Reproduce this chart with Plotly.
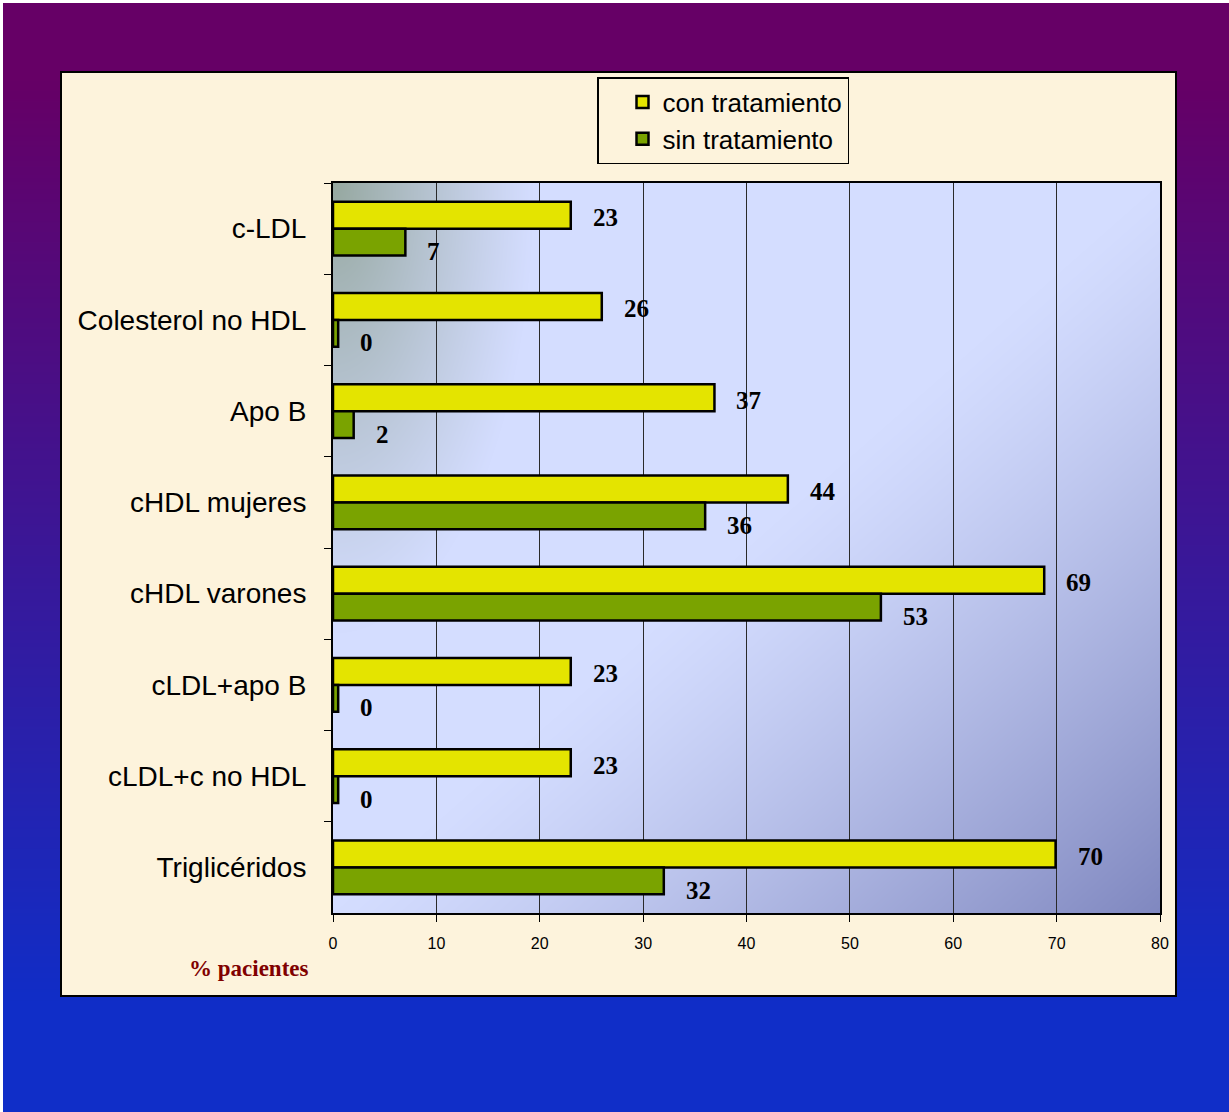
import base64
import struct
import zlib

import numpy as np
import plotly.graph_objects as go

# ---------------- data ----------------
categories = [
    "c-LDL",
    "Colesterol no HDL",
    "Apo B",
    "cHDL mujeres",
    "cHDL varones",
    "cLDL+apo B",
    "cLDL+c no HDL",
    "Triglicéridos",
]
con_tratamiento = [23, 26, 36.9, 44, 68.8, 23, 23, 69.9]
sin_tratamiento = [7, 0.5, 2, 36, 53, 0.5, 0.5, 32]
series_names = ["con tratamiento", "sin tratamiento"]
x_ticks = [0, 10, 20, 30, 40, 50, 60, 70, 80]
x_title = "% pacientes"

# ---------------- layout geometry (pixels) ----------------
W, H = 1229, 1112
PL, PR, PT, PB = 333, 1160, 183, 913          # plot area
BX0, BX1, BY0, BY1 = 61, 1176, 72, 996         # beige panel
PW, PH = PR - PL, PB - PT


def px_x(px):
    return (px - PL) / PW


def px_y(py):
    return (PB - py) / PH


# ---------------- background picture ----------------
def png_uri(arr):
    h, w, _ = arr.shape
    raw = b"".join(b"\x00" + arr[r].tobytes() for r in range(h))

    def chunk(tag, data):
        c = struct.pack(">I", len(data)) + tag + data
        return c + struct.pack(">I", zlib.crc32(tag + data) & 0xFFFFFFFF)

    png = b"\x89PNG\r\n\x1a\n"
    png += chunk(b"IHDR", struct.pack(">IIBBBBB", w, h, 8, 2, 0, 0, 0))
    png += chunk(b"IDAT", zlib.compress(raw, 9))
    png += chunk(b"IEND", b"")
    return "data:image/png;base64," + base64.b64encode(png).decode()


yy, xx = np.mgrid[0:H, 0:W].astype(float)
img = np.zeros((H, W, 3), float)

# outer purple -> blue gradient
top = np.array([102, 0, 102], float)
bot = np.array([16, 46, 200], float)
t = np.clip((yy - 80) / (1010 - 80), 0, 1)[..., None]
img[:] = top * (1 - t) + bot * t
img[(xx < 3) | (yy < 3)] = [255, 255, 255]

# beige panel
panel = (xx >= BX0) & (xx <= BX1) & (yy >= BY0) & (yy <= BY1)
img[panel] = [253, 243, 220]

# plot area gradient
pa = (xx >= PL) & (xx <= PR) & (yy >= PT) & (yy <= PB)
u = (xx - PL) / PW
v = (yy - PT) / PH
light = np.array([212, 221, 255], float)
dark = np.array([128, 136, 192], float)
grey = np.array([150, 168, 160], float)
d = (u + v) / 2
f = (np.clip((d - 0.5) / 0.5, 0, 1) ** 1.2)[..., None]
col = light * (1 - f) + dark * f
r = np.sqrt(((xx - PL) / 200) ** 2 + ((yy - PT) / 450) ** 2)
g = (np.clip(1 - r, 0, 1) ** 1.1)[..., None]
col = col * (1 - g) + grey * g
img[pa] = col[pa]

bg_uri = png_uri(np.clip(img, 0, 255).astype(np.uint8))

# ---------------- figure ----------------
SANS = "Liberation Sans, Arial, sans-serif"
SERIF = "Liberation Serif, Times New Roman, serif"
colors = ["#e4e400", "#7aa300"]

fig = go.Figure()
for name, vals, c in zip(series_names, [con_tratamiento, sin_tratamiento], colors):
    fig.add_trace(
        go.Bar(
            name=name,
            y=categories,
            x=vals,
            orientation="h",
            marker=dict(color=c, line=dict(color="black", width=2.5)),
        )
    )

annotations = []
for vals, yshift in [(con_tratamiento, 11), (sin_tratamiento, -23)]:
    for cat, val in zip(categories, vals):
        annotations.append(
            dict(
                x=val,
                y=cat,
                xref="x",
                yref="y",
                text=f"{val:.0f}",
                showarrow=False,
                xanchor="left",
                yanchor="middle",
                xshift=20,
                yshift=yshift,
                font=dict(family=SERIF, size=25, color="black", weight="bold"),
            )
        )

annotations.append(
    dict(
        x=px_x(249),
        y=px_y(968),
        xref="paper",
        yref="paper",
        text=x_title,
        showarrow=False,
        xanchor="center",
        yanchor="middle",
        font=dict(family=SERIF, size=23, color="#800000", weight="bold"),
    )
)

fig.update_layout(
    width=W,
    height=H,
    margin=dict(l=PL, r=W - PR, t=PT, b=H - PB, autoexpand=False),
    paper_bgcolor="#3a1a9a",
    plot_bgcolor="rgba(0,0,0,0)",
    barmode="group",
    bargap=0.41,
    bargroupgap=0,
    showlegend=True,
    legend=dict(
        x=px_x(597),
        y=px_y(77),
        xanchor="left",
        yanchor="top",
        bgcolor="rgba(0,0,0,0)",
        bordercolor="black",
        borderwidth=1.5,
        font=dict(family=SANS, size=26, color="black"),
        tracegroupgap=0,
        traceorder="normal",
        indentation=24,
    ),
    images=[
        dict(
            source=bg_uri,
            xref="paper",
            yref="paper",
            x=px_x(0),
            y=px_y(0),
            sizex=W / PW,
            sizey=H / PH,
            xanchor="left",
            yanchor="top",
            sizing="stretch",
            layer="below",
        )
    ],
    shapes=[
        dict(
            type="rect",
            xref="paper",
            yref="paper",
            x0=px_x(BX0),
            x1=px_x(BX1),
            y0=px_y(BY1),
            y1=px_y(BY0),
            line=dict(color="black", width=2),
            fillcolor="rgba(0,0,0,0)",
            layer="below",
        )
    ],
    annotations=annotations,
    xaxis=dict(
        range=[0, 80],
        tickvals=x_ticks,
        showgrid=True,
        gridcolor="#2a2a2a",
        gridwidth=1,
        zeroline=False,
        showline=True,
        linecolor="black",
        linewidth=2,
        mirror=True,
        ticks="outside",
        ticklen=7,
        tickcolor="black",
        tickfont=dict(family=SANS, size=16, color="black"),
        ticklabelstandoff=8,
    ),
    yaxis=dict(
        autorange="reversed",
        showgrid=False,
        showline=True,
        linecolor="black",
        linewidth=2,
        mirror=True,
        ticks="outside",
        tickson="boundaries",
        ticklen=7,
        tickcolor="black",
        tickfont=dict(family=SANS, size=28, color="black"),
        ticklabelstandoff=19,
    ),
)

fig.write_html("out.html")
